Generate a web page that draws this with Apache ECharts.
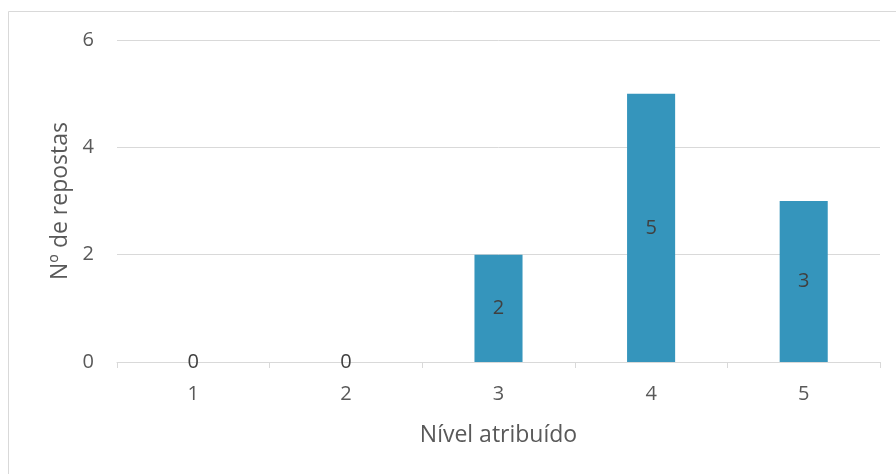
<!DOCTYPE html>
<html>
<head>
<meta charset="utf-8">
<script src="https://cdn.jsdelivr.net/npm/echarts@6/dist/echarts.min.js"></script>
<style>
  html, body { margin: 0; padding: 0; background: #fff; }
  #chart { width: 896px; height: 474px; }
</style>
</head>
<body>
<div id="chart"></div>
<script>
// Rating levels and number of answers per level
const categories = ['1', '2', '3', '4', '5'];
const answers = [0, 0, 2, 5, 3];
const yTicks = { min: 0, max: 6, interval: 2 };

const FONT = '"Open Sans", "Noto Sans", sans-serif';
const TEXT = '#595959';

const chart = echarts.init(document.getElementById('chart'), null, { renderer: 'canvas' });

chart.setOption({
  animation: false,
  backgroundColor: '#ffffff',
  graphic: [{
    type: 'rect',
    shape: { x: 8.5, y: 11.5, width: 900, height: 480 },
    style: { fill: 'none', stroke: '#d9d9d9', lineWidth: 1 },
    silent: true
  }],
  grid: { left: 117, right: 16, top: 40, bottom: 112, containLabel: false },
  xAxis: {
    type: 'category',
    data: categories,
    name: 'Nível atribuído',
    nameLocation: 'middle',
    nameGap: 62,
    nameTextStyle: { color: TEXT, fontSize: 23, fontFamily: FONT },
    axisLine: { lineStyle: { color: '#d9d9d9', width: 1 } },
    axisTick: { show: true, length: 6, lineStyle: { color: '#d9d9d9' } },
    axisLabel: { color: TEXT, fontSize: 20, fontFamily: FONT, margin: 22 }
  },
  yAxis: {
    type: 'value',
    min: yTicks.min,
    max: yTicks.max,
    interval: yTicks.interval,
    name: 'Nº de repostas',
    nameLocation: 'middle',
    nameGap: 44,
    nameTextStyle: { color: TEXT, fontSize: 23, fontFamily: FONT },
    axisLine: { show: false },
    axisTick: { show: false },
    axisLabel: { color: TEXT, fontSize: 20, fontFamily: FONT, margin: 23 },
    splitLine: { lineStyle: { color: '#d9d9d9', width: 1 } }
  },
  series: [{
    type: 'bar',
    data: answers,
    barWidth: '31.5%',
    itemStyle: { color: '#3595bc' },
    label: {
      show: true,
      position: 'inside',
      color: '#404040',
      fontSize: 20,
      fontFamily: FONT
    }
  }]
});
</script>
</body>
</html>
